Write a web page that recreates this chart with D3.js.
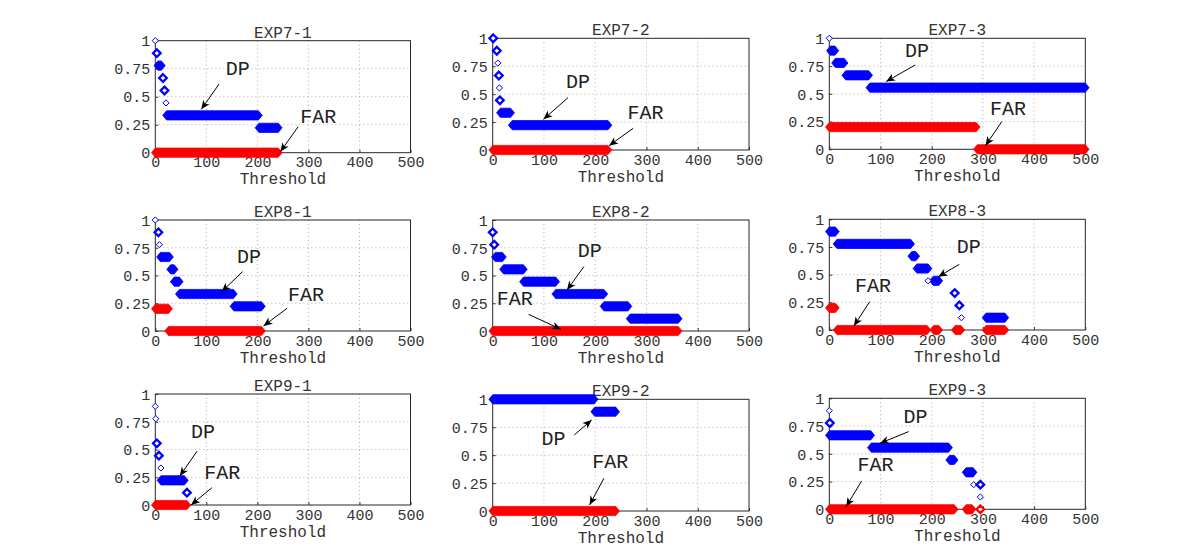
<!DOCTYPE html>
<html><head><meta charset="utf-8">
<script src="https://cdn.jsdelivr.net/npm/d3@7"></script>
<style>body{margin:0;background:#fff}svg{display:block}text{font-family:"Liberation Mono","Courier New",monospace}</style>
</head><body><svg id="c" width="1200" height="551"></svg>
<script>
// ---------- data ----------
const titles = ["EXP7-1","EXP7-2","EXP7-3","EXP8-1","EXP8-2","EXP8-3","EXP9-1","EXP9-2","EXP9-3"];
const xTicks = [0,100,200,300,400,500];
const yTicks = [0,0.25,0.5,0.75,1];
const yTickLabels = ["0","0.25","0.5","0.75","1"];
const xLabel = "Threshold";

// DP bars: [threshold start, threshold end, value]
const dpBars = [
  [[5,12,7/9],[22,202,3/9],[203,241,2/9]],
  [[15,35,3/9],[38,225,2/9]],
  [[2,11,8/9],[12,29,7/9],[32,77,6/9],[79,500,5/9]],
  [[10,28,6/9],[30,37,5/9],[37,47,4/9],[47,153,3/9],[154,208,2/9]],
  [[5,19,6/9],[21,60,5/9],[60,123,4/9],[123,217,3/9],[217,264,2/9],[268,362,1/9]],
  [[0,12,8/9],[15,159,7/9],[161,169,6/9],[171,193,5/9],[203,214,4/9],[306,343,1/9]],
  [[11,57,2/9]],
  [[0,198,1],[199,240,8/9]],
  [[0,81,6/9],[82,233,5/9],[235,244,4/9],[267,281,3/9]]
];
// DP isolated points: [threshold, value, overlap count]
const dpPoints = [
  [[0,1,1],[3,8/9,2],[15,6/9,2],[18,5/9,2],[21,4/9,1]],
  [[1,1,2],[8,8/9,2],[10,7/9,1],[12,6/9,2],[13,5/9,1],[14,4/9,2]],
  [[0,1,1]],
  [[0,1,1],[6,8/9,2],[8,7/9,1]],
  [[0,8/9,2],[3,7/9,2]],
  [[193,4/9,1],[245,3/9,2],[254,2/9,2],[258,1/9,1]],
  [[0,8/9,1],[1,7/9,1],[3,5/9,2],[7,4/9,2],[11,3/9,1],[62,1/9,2]],
  [],
  [[0,8/9,1],[1,7/9,2],[282,2/9,1],[295,2/9,2],[295,1/9,1]]
];
// FAR bars
const farBars = [
  [[0,241,0]],
  [[0,225,0]],
  [[0,287,0.2],[289,500,0]],
  [[0,26,0.2],[26,208,0]],
  [[0,362,0]],
  [[0,12,0.2],[15,191,0],[204,214,0],[246,257,0],[306,343,0]],
  [[0,62,0]],
  [[0,240,0]],
  [[0,244,0],[267,279,0]]
];
const farPoints = [[],[],[],[],[],[],[],[],[[295,0,2]]];

// annotations: text anchor [x,y] (left, baseline) and arrow [x1,y1,x2,y2] in data units
const dpText = [[138,0.69],[143,0.558],[148,0.835],[160,0.616],[166,0.67],[249,0.693],[70,0.60],[95,0.59],[145,0.775]];
const dpArrow = [[125,0.613,90,0.387],[147,0.469,99,0.275],[168,0.76,111,0.61],[171,0.535,130,0.354],[178,0.58,145,0.37],[254,0.593,213,0.482],[82,0.486,48,0.261],[159,0.68,193,0.815],[155,0.70,99,0.595]];
const farText = [[284,0.268],[263,0.275],[314,0.309],[260,0.273],[8,0.234],[50,0.346],[96,0.231],[194,0.382],[55,0.345]];
const farArrow = [[280,0.232,245,0.009],[274,0.194,227,0.039],[337,0.25,305,0.033],[258,0.204,212,0.045],[70,0.15,133,0.015],[79,0.256,48,0.036],[111,0.156,70,0.0],[217,0.293,189,0.054],[63,0.255,33,0.024]];

// ---------- layout ----------
const colX = [[155.3,410.5],[492.7,749],[829.3,1085.3]];
const rowY = [
  [[40.7,152.7],[38.3,150],[38.3,149.3]],
  [[220,331],[220,331],[219.3,330]],
  [[394,505],[399.3,511],[398.3,509.3]]
];
const BLUE = "#0000ff", RED = "#ff0000";
const FONT = '"Liberation Mono","Courier New",monospace';
const svg = d3.select("#c");

function hexPath(x0,x1,y,h,t){
  return `M${x0-t},${y}L${x0},${y-h}L${x1},${y-h}L${x1+t},${y}L${x1},${y+h}L${x0},${y+h}Z`;
}
function diamond(x,y,r){return `M${x},${y-r}L${x+r},${y}L${x},${y+r}L${x-r},${y}Z`;}

function arrow(g,x1,y1,x2,y2){
  g.append("line").attr("x1",x1).attr("y1",y1).attr("x2",x2).attr("y2",y2)
    .attr("stroke","#000").attr("stroke-width",1);
  const a = Math.atan2(y2-y1,x2-x1), L=9, W=3.8, N=6.5;
  const ux=Math.cos(a), uy=Math.sin(a), px=-uy, py=ux;
  const bx=x2-ux*L, by=y2-uy*L, nx=x2-ux*N, ny=y2-uy*N;
  g.append("path").attr("d",`M${x2},${y2}L${bx+px*W},${by+py*W}L${nx},${ny}L${bx-px*W},${by-py*W}Z`).attr("fill","#000");
}

titles.forEach((title,i)=>{
  const r=Math.floor(i/3), c=i%3;
  const [L,R]=colX[c], [T,B]=rowY[r][c];
  const x=d3.scaleLinear().domain([0,500]).range([L,R]);
  const y=d3.scaleLinear().domain([0,1]).range([B,T]);
  const g=svg.append("g");

  // grid
  g.append("g").selectAll("line").data(xTicks.slice(1,-1)).join("line")
    .attr("x1",d=>x(d)).attr("x2",d=>x(d)).attr("y1",T).attr("y2",B)
    .attr("stroke","#9a9a9a").attr("stroke-width",0.8).attr("stroke-dasharray","1,3");
  g.append("g").selectAll("line").data(yTicks.slice(1,-1)).join("line")
    .attr("y1",d=>y(d)).attr("y2",d=>y(d)).attr("x1",L).attr("x2",R)
    .attr("stroke","#9a9a9a").attr("stroke-width",0.8).attr("stroke-dasharray","1,3");

  // axes via d3
  const xa=g.append("g").attr("transform",`translate(0,${B})`)
    .call(d3.axisBottom(x).tickValues(xTicks).tickSize(-3).tickPadding(4).tickFormat(d3.format("d")));
  const ya=g.append("g").attr("transform",`translate(${L},0)`)
    .call(d3.axisLeft(y).tickValues(yTicks).tickSize(-3).tickPadding(5).tickFormat((d,k)=>yTickLabels[k]));
  [xa,ya].forEach(a=>{
    a.attr("font-family",FONT).attr("font-size",15);
    a.select(".domain").remove();
    a.selectAll("line").attr("stroke","#333");
    a.selectAll("text").attr("fill","#333").style("font-size","15px").style("font-family",FONT);
  });
  xa.selectAll("text").attr("dy","0.72em");
  ya.selectAll("text").attr("dy","0.35em");
  g.append("rect").attr("x",L).attr("y",T).attr("width",R-L).attr("height",B-T)
    .attr("fill","none").attr("stroke","#262626").attr("stroke-width",1);

  // titles & labels
  g.append("text").attr("x",(L+R)/2).attr("y",T-3).attr("text-anchor","middle")
    .attr("fill","#333").style("font-size","16px").text(title);
  g.append("text").attr("x",(L+R)/2).attr("y",B+31.5).attr("text-anchor","middle")
    .attr("fill","#333").style("font-size","16px").text(xLabel);

  // marks
  function drawSeries(bars,pts,color){
    g.append("g").selectAll("path").data(bars).join("path")
      .attr("d",d=>hexPath(x(d[0]),x(d[1]),y(d[2]),4.6,3.8)).attr("fill",color).attr("stroke",color).attr("stroke-width",0.8);
    g.append("g").selectAll("path").data(pts).join("path")
      .attr("d",d=>diamond(x(d[0]),y(d[1]),d[2]>1?3.8:3.1)).attr("fill","#fff").attr("stroke",color)
      .attr("stroke-width",d=>d[2]>1?2.3:1);
  }
  drawSeries(farBars[i],farPoints[i],RED);
  drawSeries(dpBars[i],dpPoints[i],BLUE);

  // annotations
  const ag=g.append("g");
  arrow(ag,x(dpArrow[i][0]),y(dpArrow[i][1]),x(dpArrow[i][2]),y(dpArrow[i][3]));
  arrow(ag,x(farArrow[i][0]),y(farArrow[i][1]),x(farArrow[i][2]),y(farArrow[i][3]));
  ag.append("text").attr("x",x(dpText[i][0])).attr("y",y(dpText[i][1])).attr("fill","#222").style("font-size","20px").text("DP");
  ag.append("text").attr("x",x(farText[i][0])).attr("y",y(farText[i][1])).attr("fill","#222").style("font-size","20px").text("FAR");
});
</script></body></html>
